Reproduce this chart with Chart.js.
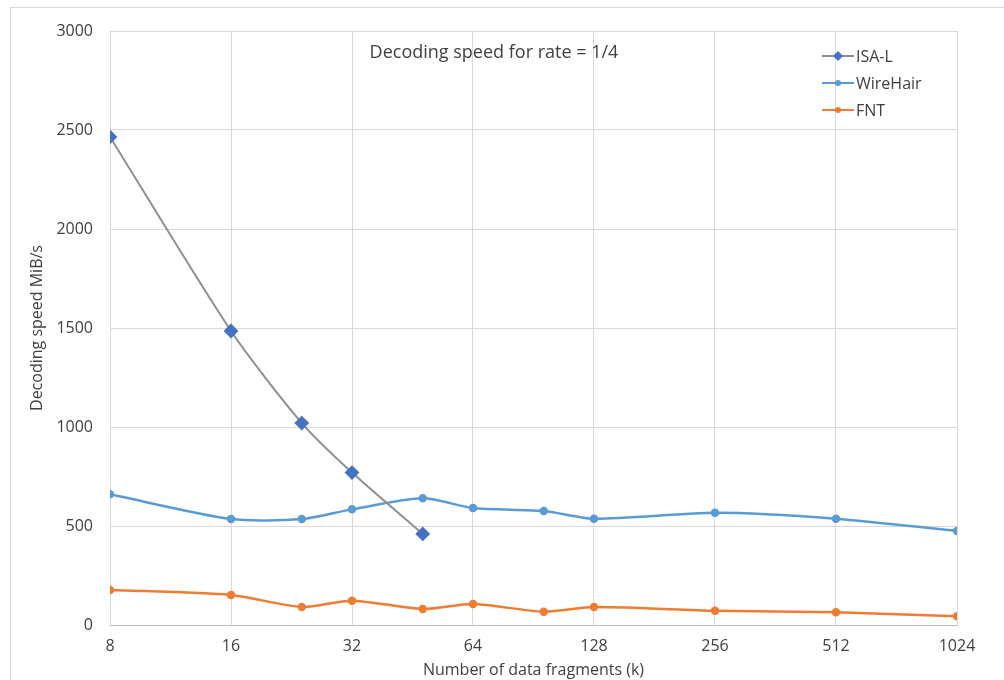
<!DOCTYPE html>
<html>
<head>
<meta charset="utf-8">
<script src="https://cdn.jsdelivr.net/npm/chart.js@4"></script>
<style>
  html, body { margin: 0; padding: 0; background: #fff; }
  #wrap { width: 1004px; height: 680px; position: relative; }
</style>
</head>
<body>
<div id="wrap"><canvas id="speedChart"></canvas></div>
<script>
// data
const fragments = [8, 16, 24, 32, 48, 64, 96, 128, 256, 512, 1024]
const xTicks = [8, 16, 32, 64, 128, 256, 512, 1024]
const isalSpeed = [2465, 1485, 1020, 770, 460]
const wirehairSpeed = [660, 535, 535, 584, 640, 591, 576, 537, 567, 537, 475]
const fntSpeed = [177, 152, 91, 123, 81, 106, 67, 91, 72, 64, 44]

const textColor = '#404040'
const fontFamily = "'Open Sans', sans-serif"

function toPoints(values) {
    return values.map((v, i) => ({ x: fragments[i], y: v }))
}

// title + legend sit inside the plot area, so draw them by hand
const overlay = {
    id: 'overlay',
    beforeDraw(chart) {
        const ctx = chart.ctx
        ctx.save()
        ctx.strokeStyle = '#d9d9d9'
        ctx.lineWidth = 1
        ctx.strokeRect(10.5, 7.5, 1100, 700)
        ctx.restore()
    },
    afterDraw(chart) {
        const ctx = chart.ctx
        ctx.save()
        ctx.fillStyle = textColor
        ctx.font = "18px " + fontFamily
        ctx.textAlign = 'center'
        ctx.textBaseline = 'middle'
        ctx.fillText('Decoding speed for rate = 1/4', 494, 53)

        ctx.font = "16px " + fontFamily
        ctx.textAlign = 'left'
        chart.data.datasets.forEach((ds, i) => {
            const y = 56 + i * 27
            ctx.strokeStyle = ds.borderColor
            ctx.lineWidth = 2
            ctx.beginPath()
            ctx.moveTo(822, y)
            ctx.lineTo(854, y)
            ctx.stroke()
            ctx.fillStyle = ds.pointBackgroundColor
            ctx.beginPath()
            if (ds.pointStyle === 'rectRot') {
                ctx.moveTo(838, y - 5)
                ctx.lineTo(843, y)
                ctx.lineTo(838, y + 5)
                ctx.lineTo(833, y)
            } else {
                ctx.arc(838, y, 3, 0, Math.PI * 2)
            }
            ctx.fill()
            ctx.fillStyle = textColor
            ctx.fillText(ds.label, 856, y + 1)
        })
        ctx.restore()
    }
}

const ctx = document.getElementById('speedChart').getContext('2d')
new Chart(ctx, {
    type: 'line',
    data: {
        datasets: [
            {
                label: 'ISA-L',
                data: toPoints(isalSpeed),
                borderColor: '#8f8f8f',
                borderWidth: 2,
                pointStyle: 'rectRot',
                pointRadius: 6,
                pointBackgroundColor: '#4472c4',
                pointBorderColor: '#4472c4',
                tension: 0.25
            },
            {
                label: 'WireHair',
                data: toPoints(wirehairSpeed),
                borderColor: '#5b9bd5',
                borderWidth: 2.5,
                pointRadius: 3,
                pointBackgroundColor: '#5b9bd5',
                pointBorderColor: '#5b9bd5',
                tension: 0.25
            },
            {
                label: 'FNT',
                data: toPoints(fntSpeed),
                borderColor: '#ed7d31',
                borderWidth: 2.5,
                pointRadius: 3,
                pointBackgroundColor: '#ed7d31',
                pointBorderColor: '#ed7d31',
                tension: 0.25
            }
        ]
    },
    options: {
        responsive: true,
        maintainAspectRatio: false,
        animation: { duration: 0 },
        layout: { padding: { left: 10, top: 31, right: 47, bottom: 0 } },
        plugins: {
            legend: { display: false },
            title: { display: false },
            tooltip: { enabled: false }
        },
        scales: {
            x: {
                type: 'logarithmic',
                min: 8,
                max: 1024,
                afterBuildTicks: scale => {
                    scale.ticks = xTicks.map(v => ({ value: v }))
                },
                afterFit: scale => { scale.height = 55 },
                ticks: {
                    callback: v => String(v),
                    color: textColor,
                    font: { family: fontFamily, size: 16 },
                    padding: 12,
                    maxRotation: 0,
                    autoSkip: false
                },
                grid: { color: '#d9d9d9', drawTicks: false },
                border: { color: '#bfbfbf' },
                title: {
                    display: true,
                    text: 'Number of data fragments (k)',
                    color: textColor,
                    font: { family: fontFamily, size: 16 },
                    padding: { top: 0, bottom: 0 }
                }
            },
            y: {
                min: 0,
                max: 3000,
                afterFit: scale => { scale.width = 100 },
                ticks: {
                    stepSize: 500,
                    callback: v => String(v),
                    color: textColor,
                    font: { family: fontFamily, size: 16 },
                    padding: 17
                },
                grid: { color: '#d9d9d9', drawTicks: false },
                border: { display: false },
                title: {
                    display: true,
                    text: 'Decoding speed MiB/s',
                    color: textColor,
                    font: { family: fontFamily, size: 16 },
                    padding: { top: 18, bottom: 0 }
                }
            }
        }
    },
    plugins: [overlay]
})
</script>
</body>
</html>
